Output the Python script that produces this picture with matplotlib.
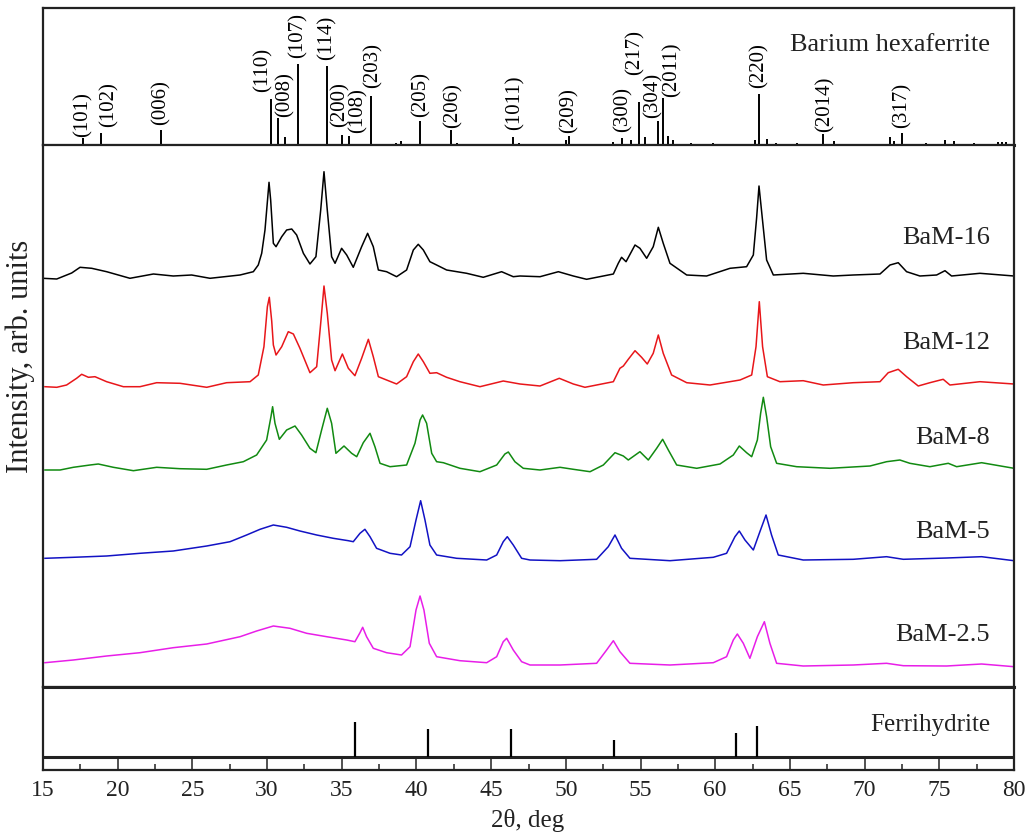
import numpy as np
import matplotlib
matplotlib.use('Agg')
import matplotlib.pyplot as plt
from matplotlib.ticker import MultipleLocator

plt.rcParams['font.family'] = ['Liberation Serif', 'DejaVu Serif']

# Barium hexaferrite reference pattern (2theta, relative intensity)
bam_pos = [17.70, 18.88, 22.87, 30.23, 30.70, 31.19, 32.10, 34.02, 35.02, 35.49,
           36.99, 38.66, 38.99, 40.22, 42.34, 42.71, 46.46, 46.86, 49.98, 50.18,
           53.19, 53.75, 54.38, 54.93, 55.27, 56.20, 56.49, 56.83, 57.20, 58.39,
           59.84, 62.63, 62.96, 63.48, 64.08, 65.46, 67.24, 67.98, 71.72, 71.99,
           72.48, 74.11, 75.40, 76.00, 77.34, 78.90, 79.19, 79.46]
bam_int = [7, 12, 15, 46, 27, 8, 81, 79, 10, 9,
           49, 2, 4, 24, 15, 2, 8, 2, 5, 9,
           3, 7, 5, 43, 8, 24, 47, 9, 5, 2,
           2, 5, 51, 6, 2, 2, 11, 4, 8, 4,
           12, 2, 5, 4, 2, 3, 3, 3]

hkl_labels = ['(101)', '(102)', '(006)', '(110)', '(008)', '(107)', '(114)', '(200)',
              '(108)', '(203)', '(205)', '(206)', '(1011)', '(209)', '(300)', '(217)',
              '(304)', '(2011)', '(220)', '(2014)', '(317)']
# label anchor (x in 2theta, y = bottom of rotated text)
hkl_x = [17.68, 19.42, 22.88, 29.71, 31.20, 32.07, 34.01, 34.88, 36.08, 37.09, 40.28,
         42.44, 46.59, 50.21, 53.82, 54.62, 55.81, 57.08, 62.95, 67.34, 72.48]
hkl_y = [8, 18, 20, 53, 28, 87, 85, 18, 12, 57, 28, 17, 15, 12, 13, 70, 27, 48, 57, 13, 17]

# Ferrihydrite reference pattern
fh_pos = [35.9, 40.8, 46.3, 53.2, 61.4, 62.8]
fh_int = [35, 28, 28, 17, 24, 31]

x16 = [15.0, 15.92, 16.92, 17.48, 18.26, 19.26, 20.82, 22.39, 23.72, 24.95, 26.18, 28.19,
       29.08, 29.41, 29.64, 29.86, 30.13, 30.24, 30.42, 30.60, 30.98, 31.31, 31.65, 31.98,
       32.43, 32.87, 33.27, 33.59, 33.81, 34.03, 34.32, 34.55, 34.99, 35.33, 35.77, 36.33,
       36.73, 37.11, 37.45, 38.00, 38.67, 39.34, 39.79, 40.12, 40.46, 40.90, 41.35, 42.02,
       43.36, 44.47, 45.70, 46.48, 46.93, 48.27, 49.50, 50.50, 51.39, 53.18, 53.51, 53.73,
       54.03, 54.63, 54.96, 55.41, 55.85, 56.19, 56.52, 56.97, 58.09, 59.42, 60.99, 62.10,
       62.55, 62.77, 62.93, 63.15, 63.44, 63.89, 65.89, 67.90, 69.24, 71.03, 71.70, 72.25,
       72.81, 73.70, 74.82, 75.38, 75.82, 77.72, 80.0]
y16 = [1.7, 1, 7, 12.7, 11.7, 8.3, 1.7, 6, 4, 5, 1.7, 5,
       8.3, 15, 26.7, 50, 97.7, 80, 36.7, 33.3, 43.3, 50, 51, 45,
       26.7, 16, 23.3, 70, 108.3, 70, 23.3, 16.7, 31.7, 25, 12.7, 33.3,
       46.7, 33.3, 10, 8.3, 3.3, 10, 30, 35.7, 30, 18.3, 15, 10,
       6.7, 2.7, 8.3, 3.3, 4, 3.3, 8.3, 4, 0.7, 6, 16.7, 22.7,
       18.3, 35, 31.7, 21.7, 33.3, 52.7, 36.7, 16.7, 5, 4, 11.7, 13.3,
       25, 62, 94, 62, 20, 5, 6.7, 4, 5, 6, 15, 17.3,
       8.3, 4, 5, 9.3, 4, 6.7, 4]

x12 = [15.13, 15.92, 16.58, 17.25, 17.59, 18.04, 18.48, 19.26, 20.38, 21.49, 22.61, 24.17,
       25.96, 27.29, 28.86, 29.41, 29.79, 30.02, 30.15, 30.31, 30.42, 30.60, 30.98, 31.42,
       31.76, 32.20, 32.87, 33.32, 33.61, 33.81, 34.03, 34.32, 34.55, 35.04, 35.44, 35.88,
       36.33, 36.78, 37.11, 37.45, 38.00, 38.67, 39.34, 39.79, 40.12, 40.46, 40.90, 41.35,
       42.02, 42.91, 44.25, 45.81, 46.93, 48.27, 49.56, 50.50, 51.28, 53.18, 53.62, 53.85,
       54.18, 54.63, 55.07, 55.45, 55.85, 56.19, 56.52, 57.08, 58.09, 59.65, 61.66, 62.44,
       62.73, 62.95, 63.17, 63.49, 64.33, 65.89, 67.23, 69.24, 71.03, 71.58, 72.25, 72.81,
       73.59, 74.37, 75.26, 75.71, 77.72, 80.0]
y12 = [0.3, -0.3, 2, 8.7, 12.7, 9.7, 10.3, 5.3, 0.3, 0.3, 4.3, 3.7,
       -0.3, 4.3, 5.3, 12, 40.3, 80.3, 89.7, 66, 42, 32, 40.3, 55.3,
       53, 38.7, 14.3, 20.3, 67, 101, 73.7, 27, 16.3, 33, 18.7, 11.3,
       28.7, 47.7, 30.3, 10.3, 7, 3, 10.3, 25.3, 33, 25.3, 13.7, 14.3,
       9.7, 5.3, 0.3, 6, 3, 1, 8.7, 3, -0.3, 5.3, 18.7, 21,
       27.7, 36.3, 29.7, 23, 33.7, 52, 33.7, 12, 4.3, 2, 7, 12,
       40.3, 85.3, 40.3, 10.3, 5.3, 6.3, 2, 4.3, 5.3, 14.3, 17.7, 10.3,
       1, 4.3, 7.7, 2, 5.3, 3]

x8 = [15.13, 16.14, 17.03, 18.15, 18.70, 19.71, 21.05, 22.61, 24.17, 25.96, 27.29, 28.41,
      29.30, 29.97, 30.26, 30.37, 30.53, 30.82, 31.31, 31.87, 32.31, 32.87, 33.27, 33.65,
      34.03, 34.32, 34.61, 35.15, 35.66, 36.00, 36.44, 36.89, 37.22, 37.56, 38.23, 39.34,
      39.90, 40.24, 40.41, 40.68, 41.02, 41.35, 41.80, 42.91, 44.25, 45.37, 45.92, 46.15,
      46.59, 47.15, 48.27, 49.61, 50.50, 51.62, 52.51, 53.29, 53.85, 54.18, 54.96, 55.52,
      56.08, 56.48, 56.86, 57.42, 58.76, 60.32, 61.21, 61.61, 62.10, 62.44, 62.82, 63.04,
      63.22, 63.44, 63.71, 64.11, 65.45, 67.68, 70.36, 71.47, 72.36, 73.03, 74.37, 75.60,
      76.16, 77.83, 80.0]
y8 = [0, 0, 2.7, 5, 6, 2.7, -0.7, 2.7, 1.3, 0.7, 5, 8.3,
      15, 30, 53.3, 63.3, 46.7, 30.7, 40, 44, 35, 21.7, 17.3, 40,
      61.7, 46.7, 16.7, 24, 16.7, 13.3, 27.3, 36.7, 23.3, 6.7, 3.3, 5,
      26.7, 50, 55, 46.7, 16.7, 8.3, 7.3, 1.7, -1.7, 5, 16, 18,
      8.3, 1.7, 0, 2.7, 0.7, -1.7, 5, 17.3, 14, 10, 18.3, 10,
      21.7, 30.7, 20, 5, 1.7, 6, 15, 24, 17.3, 13.3, 30, 56.7,
      72.7, 53.3, 23.3, 6.7, 3.3, 1.7, 4, 8.3, 10, 6.7, 3.3, 6.7,
      3.3, 7.3, 1.7]

x5 = [15.13, 17.03, 19.26, 21.49, 23.72, 25.96, 27.52, 28.63, 29.53, 30.42, 31.31, 32.20,
      33.32, 34.43, 35.44, 35.77, 36.22, 36.55, 36.89, 37.33, 38.23, 39.00, 39.57, 39.97,
      40.28, 40.57, 40.90, 41.35, 42.69, 44.70, 45.37, 45.81, 46.08, 46.48, 47.04, 47.60,
      49.61, 52.06, 52.84, 53.29, 53.73, 54.29, 56.97, 59.87, 60.76, 61.32, 61.61, 61.99,
      62.55, 62.99, 63.40, 63.77, 64.22, 65.89, 69.24, 71.47, 72.59, 75.49, 77.83, 80.0]
y5 = [1.7, 2.7, 4, 6.7, 9, 14, 18.3, 25, 30.7, 35, 32.7, 29,
      25, 21.7, 19.3, 18.3, 26.7, 30.7, 23.3, 11.7, 6.7, 5, 13.3, 40,
      59.3, 40, 15, 5, 1.7, 0, 5, 18.3, 23.3, 15, 1.7, 0,
      -0.7, 0.7, 13.3, 25, 11.7, 1.7, -0.7, 2.7, 6.7, 23.3, 29, 20,
      10, 28.3, 45, 25, 5, 0, 0.7, 3.3, 0.7, 2, 3.3, -0.7]

x25 = [15.13, 17.03, 19.26, 21.49, 23.72, 25.96, 28.19, 29.30, 30.42, 31.53, 32.65, 33.99,
       35.33, 35.88, 36.22, 36.40, 36.66, 37.11, 38.00, 39.00, 39.57, 39.97, 40.24, 40.50,
       40.86, 41.35, 42.91, 44.70, 45.37, 45.81, 46.04, 46.48, 47.04, 47.60, 49.61, 52.06,
       52.73, 53.18, 53.62, 54.29, 56.97, 59.87, 60.76, 61.21, 61.48, 61.88, 62.32, 62.82,
       63.29, 63.66, 64.11, 65.89, 69.24, 71.47, 72.59, 75.49, 77.83, 80.0]
y25 = [3.3, 6, 10, 13.3, 18.3, 22, 29.3, 35, 40, 37.7, 32.7, 29.3,
       26, 24.3, 33.3, 38.7, 29.3, 17.7, 13.3, 11, 19.3, 56, 70, 56,
       22.7, 9.3, 5.3, 3.3, 9.3, 24.3, 27.7, 16, 4.3, 1, 1, 2.7,
       16, 25.3, 14.3, 2.7, 1, 3.3, 9.3, 26, 32, 22.7, 7.7, 29.3,
       44.3, 22.7, 2.7, 0, 1, 2.7, 0.3, 0, 2, -0.7]

samples = ['BaM-16', 'BaM-12', 'BaM-8', 'BaM-5', 'BaM-2.5']
xs = [x16, x12, x8, x5, x25]
ys = [y16, y12, y8, y5, y25]
colors = ['#000000', '#e8161a', '#118a11', '#1212c4', '#e81ee8']
offsets = [407, 300, 217, 127, 21]
label_y = [449, 344, 249, 155, 52]

W, H = 1029, 836
fig = plt.figure(figsize=(W / 100, H / 100), dpi=100)
left, right = 43 / W, 1014 / W

def frac(ytop, ybot):
    return [left, 1 - ybot / H, right - left, (ybot - ytop) / H]

ax_top = fig.add_axes(frac(8, 145))
ax_mid = fig.add_axes(frac(145, 687))
ax_bot = fig.add_axes(frac(687, 770))

spine_lw = 1.6
for ax in (ax_top, ax_mid, ax_bot):
    ax.set_xlim(15, 80)
    for s in ax.spines.values():
        s.set_linewidth(spine_lw)
        s.set_color('#222222')
    ax.set_yticks([])

# top: barium hexaferrite sticks
ax_top.set_ylim(0, 137)
ax_top.vlines(bam_pos, 0, bam_int, color='black', lw=1.4)
ax_top.spines['bottom'].set_linewidth(2.2)
for lab, lx, ly in zip(hkl_labels, hkl_x, hkl_y):
    ax_top.text(lx, ly, lab, rotation=90, ha='center', va='bottom', fontsize=15)
ax_top.text(78.4, 100, 'Barium hexaferrite', ha='right', va='center', fontsize=19,
            color='#222222')
ax_top.tick_params(axis='x', bottom=False, labelbottom=False)

# middle: measured patterns
ax_mid.set_ylim(0, 542)
for x, y, c, off, name, ly in zip(xs, ys, colors, offsets, samples, label_y):
    ax_mid.plot(x, np.array(y) + off, color=c, lw=1.1)
    ax_mid.text(78.4, ly, name, ha='right', va='center', fontsize=19, color='#222222')
ax_mid.tick_params(axis='x', bottom=False, labelbottom=False)

# bottom: ferrihydrite sticks + axis
ax_bot.set_ylim(0, 83)
ax_bot.axhline(13, color='#222222', lw=2.2)
ax_bot.vlines(fh_pos, 13, 13 + np.array(fh_int), color='black', lw=1.6)
ax_bot.spines['top'].set_linewidth(2.2)
ax_bot.text(78.4, 45, 'Ferrihydrite', ha='right', va='center', fontsize=18,
            color='#222222')
ax_bot.xaxis.set_major_locator(MultipleLocator(5))
ax_bot.xaxis.set_minor_locator(MultipleLocator(2.5))
ax_bot.tick_params(axis='x', which='major', direction='in', length=9.4, width=1.1,
                   labelsize=17, pad=7, colors='#222222')
ax_bot.tick_params(axis='x', which='minor', direction='in', length=4.3, width=1.1,
                   colors='#222222')

fig.text(528 / W, 1 - 820 / H, '2θ, deg', ha='center', va='center', fontsize=18,
         color='#222222')
fig.text(20 / W, 1 - 356 / H, 'Intensity, arb. units', rotation=90, ha='center',
         va='center', fontsize=22, color='#222222')

fig.savefig('out.png', dpi=100)
